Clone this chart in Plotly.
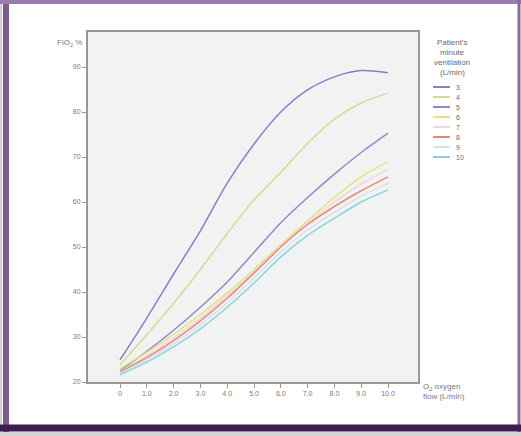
import plotly.graph_objects as go

# ---------------- data ----------------
flow = [0, 1, 2, 3, 4, 5, 6, 7, 8, 9, 10]
x_tick_vals = [0, 1, 2, 3, 4, 5, 6, 7, 8, 9, 10]
x_tick_text = ["0", "1.0", "2.0", "3.0", "4.0", "5.0", "6.0", "7.0", "8.0", "9.0", "10.0"]
y_tick_vals = [20, 30, 40, 50, 60, 70, 80, 90]

mv_labels = ["3", "4", "5", "6", "7", "8", "9", "10"]
mv1 = [24.9, 34.2, 44.0, 53.6, 64.2, 72.9, 80.0, 84.9, 87.8, 89.2, 88.7]
mv2 = [23.8, 30.5, 37.5, 45.0, 53.0, 60.5, 66.6, 73.0, 78.4, 82.0, 84.2]
mv3 = [22.5, 26.8, 31.5, 36.6, 42.2, 48.8, 55.4, 61.0, 66.2, 71.0, 75.3]
mv4 = [23.0, 26.6, 30.6, 35.0, 39.8, 45.0, 50.5, 55.8, 61.0, 65.6, 68.9]
mv5 = [22.3, 25.8, 29.8, 34.2, 39.2, 44.6, 50.2, 55.4, 60.0, 64.0, 67.2]
mv6 = [22.2, 25.4, 29.2, 33.6, 38.6, 44.2, 50.0, 55.0, 59.0, 62.5, 65.6]
mv7 = [21.9, 24.9, 28.5, 32.7, 37.6, 43.1, 48.9, 53.8, 57.7, 61.3, 64.2]
mv8 = [21.6, 24.4, 27.8, 31.8, 36.6, 42.0, 47.8, 52.6, 56.4, 60.0, 62.7]
series = [mv1, mv2, mv3, mv4, mv5, mv6, mv7, mv8]
colors = ["#8c7cc8", "#d4da98", "#9686c6", "#e6e27a", "#eed6da", "#e38a7c", "#d6e2ea", "#8fd0dc"]

# ---------------- layout geometry (pixels) ----------------
W, H = 521, 436
L, R, T, B = 88, 418, 32, 382


def px(xp):
    return (xp - L) / (R - L)


def py(yp):
    return (B - yp) / (B - T)


fig = go.Figure()
for name, vals, col in zip(mv_labels, series, colors):
    fig.add_trace(go.Scatter(
        x=flow, y=vals, mode="lines", name=name,
        line=dict(color=col, width=1.5, shape="spline", smoothing=0.8),
        showlegend=False,
    ))

font = dict(family="Liberation Sans, Arial, sans-serif", size=8, color="#7d7878")

shapes = []
annotations = []

# manual compact legend
title_lines = ["Patient's", "minute", "ventilation", "(L/min)"]
title_y = [42, 52, 62, 72]
for txt, yy in zip(title_lines, title_y):
    annotations.append(dict(x=px(452), y=py(yy), xref="paper", yref="paper",
                            text=txt, showarrow=False, xanchor="center", yanchor="middle",
                            font=dict(family=font["family"], size=8, color="#6e6868")))
for i, (name, col) in enumerate(zip(mv_labels, colors)):
    yy = 87 + i * 10
    shapes.append(dict(type="line", xref="paper", yref="paper",
                       x0=px(433), x1=px(450), y0=py(yy), y1=py(yy),
                       line=dict(color=col, width=2)))
    annotations.append(dict(x=px(454), y=py(yy), xref="paper", yref="paper",
                            text=name, showarrow=False, xanchor="left", yanchor="middle",
                            font=dict(family=font["family"], size=7, color="#6e6868")))

# axis titles
annotations.append(dict(x=px(84), y=py(43), xref="paper", yref="paper",
                        text="FiO<sub>2</sub> %", showarrow=False,
                        xanchor="right", yanchor="middle", font=font))
annotations.append(dict(x=px(421), y=py(392), xref="paper", yref="paper",
                        text="O<sub>2</sub> oxygen<br>flow (L/min)", showarrow=False,
                        xanchor="left", yanchor="middle", align="left", font=font))

# purple frame around the picture
shapes += [
    dict(type="line", xref="paper", yref="paper", x0=px(1), x1=px(1), y0=py(0), y1=py(436),
         line=dict(color="#d4d0d6", width=2)),
    dict(type="line", xref="paper", yref="paper", x0=px(6), x1=px(6), y0=py(0), y1=py(432),
         line=dict(color="#7a5c92", width=6)),
    dict(type="line", xref="paper", yref="paper", x0=px(0), x1=px(521), y0=py(2), y1=py(2),
         line=dict(color="#9a7cae", width=4)),
    dict(type="line", xref="paper", yref="paper", x0=px(519), x1=px(519), y0=py(0), y1=py(432),
         line=dict(color="#8a6aa0", width=3)),
    dict(type="line", xref="paper", yref="paper", x0=px(0), x1=px(521), y0=py(428), y1=py(428),
         line=dict(color="#3e1e52", width=7)),
    dict(type="line", xref="paper", yref="paper", x0=px(0), x1=px(521), y0=py(434), y1=py(434),
         line=dict(color="#d6d4d6", width=4)),
]

x_per = (388 - 120) / 10.0
x0 = 0 - (120 - L) / x_per
x1 = 10 + (R - 388) / x_per
y_per = 45.0
ytop = 20 + (B - T) / y_per * 10

fig.update_layout(
    width=W, height=H,
    margin=dict(l=L, r=W - R, t=T, b=H - B),
    paper_bgcolor="#ffffff",
    plot_bgcolor="#f1f3f3",
    shapes=shapes,
    annotations=annotations,
    showlegend=False,
    xaxis=dict(range=[x0, x1], tickvals=x_tick_vals, ticktext=x_tick_text,
               showgrid=False, zeroline=False, showline=True, linecolor="#9e9696",
               linewidth=2, mirror=True, ticks="outside", ticklen=4, tickcolor="#9e9696",
               tickfont=dict(family=font["family"], size=7, color="#7d7878")),
    yaxis=dict(range=[20, ytop], tickvals=y_tick_vals,
               showgrid=False, zeroline=False, showline=True, linecolor="#9e9696",
               linewidth=2, mirror=True, ticks="outside", ticklen=4, tickcolor="#9e9696",
               tickfont=dict(family=font["family"], size=7, color="#7d7878")),
)

fig.write_html(
    "out.html",
    config={"displayModeBar": False},
    post_script="document.body.style.margin='0';document.body.style.padding='0';"
                "document.body.style.overflow='hidden';",
)
